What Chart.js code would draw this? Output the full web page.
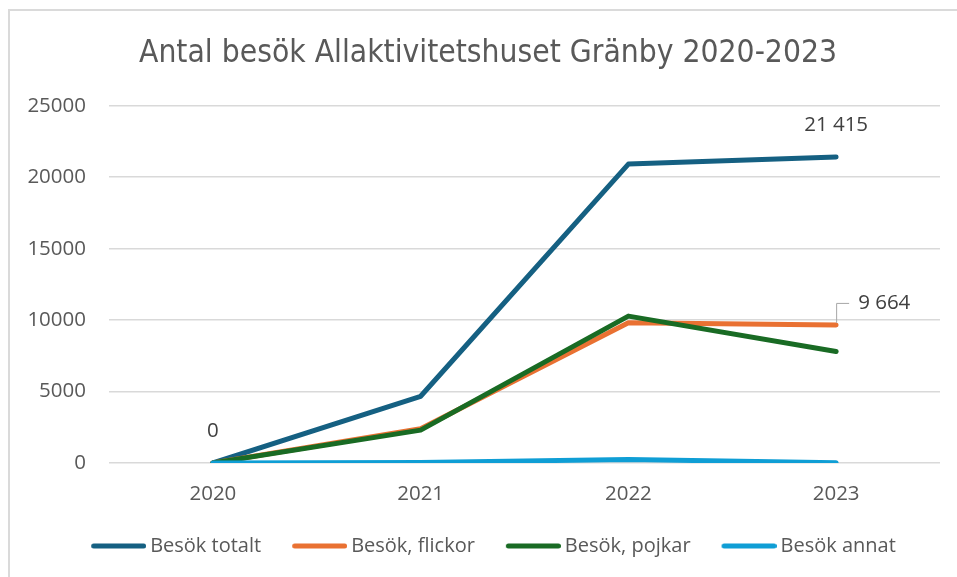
<!DOCTYPE html>
<html>
<head>
<meta charset="utf-8">
<script src="https://cdn.jsdelivr.net/npm/chart.js@4/dist/chart.umd.min.js"></script>
<style>
  html, body { margin: 0; padding: 0; background: #fff; overflow: hidden; }
  body { width: 957px; height: 577px; position: relative; }
  #frame { position: absolute; left: 8px; top: 9px; width: 1000px; height: 600px;
           border-top: 2px solid #dadada; border-left: 2px solid #dadada; }
  #wrap { position: absolute; left: 10px; top: 11px; width: 960px; height: 566px; }
</style>
</head>
<body>
<div id="frame"></div>
<div id="wrap"><canvas id="chart"></canvas></div>
<script>
// values
const years = ["2020", "2021", "2022", "2023"];
const besokTotalt = [0, 4670, 20920, 21415];
const besokFlickor = [0, 2400, 9820, 9664];
const besokPojkar = [0, 2300, 10280, 7800];
const besokAnnat = [0, 40, 250, 10];
const yTicks = [0, 5000, 10000, 15000, 20000, 25000];

const grey = "#595959";

function fmt(v) {
  return String(Math.round(v)).replace(/\B(?=(\d{3})+(?!\d))/g, " ");
}

// data labels shown in the original: [dataset, point]
const shownLabels = [[0, 0], [0, 3], [1, 3]];

const labelPlugin = {
  id: "pointLabels",
  afterDatasetsDraw(chart) {
    const ctx = chart.ctx;
    ctx.save();
    ctx.font = "20.5px 'Open Sans'";
    ctx.fillStyle = "#404040";
    ctx.textBaseline = "middle";
    shownLabels.forEach(function (l) {
      const pt = chart.getDatasetMeta(l[0]).data[l[1]];
      const v = chart.data.datasets[l[0]].data[l[1]];
      if (l[0] == 1) {
        // moved label with leader line
        ctx.strokeStyle = "#a6a6a6";
        ctx.lineWidth = 1;
        ctx.beginPath();
        ctx.moveTo(pt.x + 0.5, pt.y - 2);
        ctx.lineTo(pt.x + 0.5, pt.y - 21.5);
        ctx.lineTo(pt.x + 13, pt.y - 21.5);
        ctx.stroke();
        ctx.textAlign = "left";
        ctx.fillText(fmt(v), pt.x + 22, pt.y - 22);
      } else {
        ctx.textAlign = "center";
        ctx.fillText(fmt(v), pt.x, pt.y - 32);
      }
    });
    ctx.restore();
  }
};

// title and legend sit a bit right of centre in the Excel picture
const shiftPlugin = {
  id: "shiftBoxes",
  afterLayout(chart) {
    chart.legend.left += 8;
    chart.legend.right += 8;
    chart.titleBlock.left += 13;
    chart.titleBlock.right += 13;
  }
};

// legend swatch: short thick line, drawn right-aligned in a wide transparent box
function legendLine(color) {
  const c = document.createElement("canvas");
  c.width = 82;
  c.height = 10;
  const g = c.getContext("2d");
  g.strokeStyle = color;
  g.lineWidth = 5;
  g.lineCap = "round";
  g.beginPath();
  g.moveTo(29.5, 5);
  g.lineTo(79.5, 5);
  g.stroke();
  return c;
}

function series(label, data, color, order) {
  return {
    label: label,
    data: data,
    borderColor: color,
    backgroundColor: color,
    borderWidth: 5,
    borderCapStyle: "round",
    borderJoinStyle: "round",
    pointRadius: 0,
    pointHoverRadius: 0,
    pointStyle: legendLine(color),
    tension: 0,
    order: order
  };
}

new Chart(document.getElementById("chart"), {
  type: "line",
  data: {
    labels: years,
    datasets: [
      series("Besök totalt", besokTotalt, "#156082", 3),
      series("Besök, flickor", besokFlickor, "#E97132", 2),
      series("Besök, pojkar", besokPojkar, "#196B24", 1),
      series("Besök annat", besokAnnat, "#0F9ED5", 0)
    ]
  },
  options: {
    responsive: true,
    maintainAspectRatio: false,
    animation: false,
    layout: { padding: { left: 0, right: 30, top: 0, bottom: 11 } },
    plugins: {
      title: {
        display: true,
        text: "Antal besök Allaktivitetshuset Gränby 2020-2023",
        color: grey,
        font: { family: "'Liberation Sans Narrow', 'DejaVu Sans Condensed', 'Open Sans'", size: 31.5, weight: "normal" },
        padding: { top: 24, bottom: 33 }
      },
      legend: {
        position: "bottom",
        labels: {
          color: grey,
          font: { family: "'Open Sans'", size: 20 },
          usePointStyle: true,
          pointStyleWidth: 70,
          padding: 10,
          sort: function (a, b) { return a.datasetIndex - b.datasetIndex; }
        }
      },
      tooltip: { enabled: false }
    },
    scales: {
      x: {
        offset: true,
        afterFit: function (scale) { scale.height = 63; },
        grid: { display: false },
        border: { display: false },
        ticks: { color: grey, font: { family: "'Open Sans'", size: 20.5 }, padding: 11 }
      },
      y: {
        min: 0,
        max: 25000,
        afterFit: function (scale) { scale.width = 99; },
        afterBuildTicks: function (scale) {
          scale.ticks = yTicks.map(function (v) { return { value: v }; });
        },
        grid: { color: "#d9d9d9", lineWidth: 1.5, drawTicks: false },
        border: { display: false },
        ticks: {
          color: grey,
          font: { family: "'Open Sans'", size: 20.5 },
          padding: 23,
          callback: function (v) { return String(v); }
        }
      }
    }
  },
  plugins: [labelPlugin, shiftPlugin]
});
</script>
</body>
</html>
